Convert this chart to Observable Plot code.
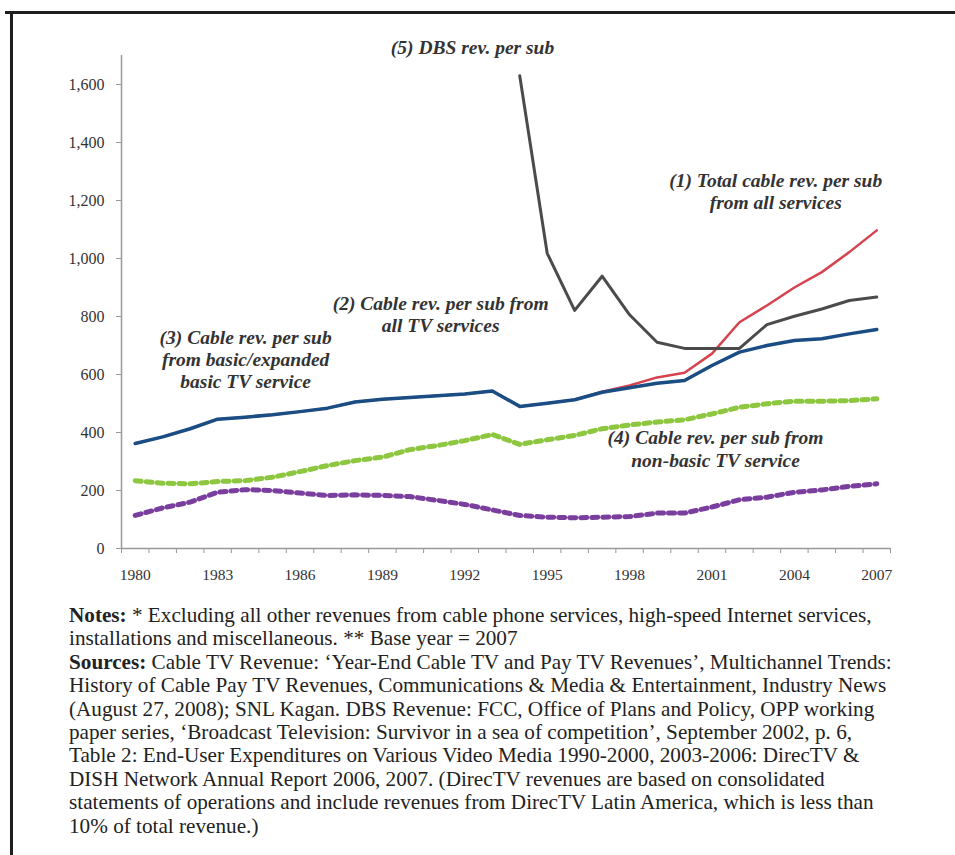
<!DOCTYPE html>
<html>
<head>
<meta charset="utf-8">
<script src="https://cdn.jsdelivr.net/npm/d3@7"></script>
<script src="https://cdn.jsdelivr.net/npm/@observablehq/plot@0.6"></script>
<style>
  html, body { margin: 0; padding: 0; background: #fff; }
  #page { position: relative; width: 955px; height: 855px; overflow: hidden; }
  #topBorder { position: absolute; left: 5px; top: 11px; width: 960px; height: 3px; background: #1e1e1e; }
  #leftBorder { position: absolute; left: 10px; top: 11px; width: 3px; height: 860px; background: #1e1e1e; }
  #chart { position: absolute; left: 0; top: 0; }
  #notes { position: absolute; left: 69px; top: 604px; font-family: "Liberation Serif", serif; font-size: 21.2px; line-height: 23.4px; color: #222; white-space: nowrap; }
  #notes b { font-weight: bold; }
</style>
</head>
<body>
<div id="page">
  <div id="topBorder"></div>
  <div id="leftBorder"></div>
  <div id="chart"></div>
  <div id="notes"></div>
</div>
<script>
const years = [1980,1981,1982,1983,1984,1985,1986,1987,1988,1989,1990,1991,1992,1993,1994,1995,1996,1997,1998,1999,2000,2001,2002,2003,2004,2005,2006,2007];
// (1) Total cable rev. per sub from all services
const totalAll = [362,385,413,446,453,461,472,484,505,515,521,527,533,543,490,501,513,541,562,590,606,672,780,838,900,953,1022,1097];
// (2) Cable rev. per sub from all TV services
const allTV = [362,385,413,446,453,461,472,484,505,515,521,527,533,543,490,501,513,539,554,570,579,631,677,700,717,723,740,755];
// (3) basic/expanded basic
const basicTV = [234,225,223,231,234,246,265,286,303,315,341,355,372,393,359,375,390,413,426,436,444,464,487,499,508,508,510,516];
// (4) non-basic
const nonBasicTV = [114,140,160,194,203,200,191,183,185,183,179,166,152,133,114,108,106,108,110,122,122,143,168,177,194,202,214,223];
// (5) DBS
const dbsYears = [1994,1995,1996,1997,1998,1999,2000,2001,2002,2003,2004,2005,2006,2007];
const dbs = [1630,1018,821,939,806,711,690,690,690,772,801,826,855,867];

const yTicks = [0,200,400,600,800,1000,1200,1400,1600];
const xLabelTicks = [1980,1983,1986,1989,1992,1995,1998,2001,2004,2007];

const labels = [
  {x: 1992.28, y: 1728, text: "(5) DBS rev. per sub"},
  {x: 2003.32, y: 1234, text: "(1) Total cable rev. per sub\nfrom all services"},
  {x: 1991.12, y: 808, text: "(2) Cable rev. per sub from\nall TV services"},
  {x: 1984.02, y: 655, text: "(3) Cable rev. per sub\nfrom basic/expanded\nbasic TV service"},
  {x: 2001.13, y: 345, text: "(4) Cable rev. per sub from\nnon-basic TV service"}
];

const toRows = (xs, ys) => xs.map((x, i) => ({year: x, value: ys[i]}));
const boundaries = d3.range(1979.5, 2008, 1);

const chart = Plot.plot({
  width: 955,
  height: 590,
  marginLeft: 121,
  marginRight: 65,
  marginTop: 55,
  marginBottom: 42,
  x: {domain: [1979.5, 2007.5]},
  y: {domain: [0, 1700]},
  style: {fontFamily: "Liberation Serif, serif", background: "transparent", color: "#333"},
  marks: [
    Plot.axisY({ticks: yTicks, tickSize: 5, tickPadding: 12, tickFormat: d3.format(","), fontSize: 16, label: null, stroke: "#999", fill: "#333"}),
    Plot.axisX({ticks: boundaries, tickSize: 5, tickFormat: () => "", label: null, stroke: "#999"}),
    Plot.axisX({ticks: xLabelTicks, tickSize: 0, tickPadding: 20, tickFormat: d => String(d), fontSize: 15.5, label: null, fill: "#333"}),
    Plot.ruleY([0], {stroke: "#999", strokeWidth: 1.5}),
    Plot.ruleX([1979.5], {stroke: "#999", strokeWidth: 1.5}),
    Plot.line(toRows(years, totalAll), {x: "year", y: "value", stroke: "#d6434f", strokeWidth: 2.5}),
    Plot.line(toRows(dbsYears, dbs), {x: "year", y: "value", stroke: "#4b4b4b", strokeWidth: 3}),
    Plot.line(toRows(years, allTV), {x: "year", y: "value", stroke: "#1b4d85", strokeWidth: 3.5}),
    Plot.line(toRows(years, basicTV), {x: "year", y: "value", stroke: "#8dc63f", strokeWidth: 5, strokeDasharray: "6,5"}),
    Plot.line(toRows(years, nonBasicTV), {x: "year", y: "value", stroke: "#7a3f9e", strokeWidth: 5, strokeDasharray: "6,5"}),
    Plot.text(labels, {x: "x", y: "y", text: "text", fontSize: 19.5, fontStyle: "italic", fontWeight: "bold", lineHeight: 1.13, fill: "#333"})
  ]
});
document.getElementById("chart").appendChild(chart);

document.getElementById("notes").innerHTML = [
  "<b>Notes:</b> * Excluding all other revenues from cable phone services, high-speed Internet services,",
  "installations and miscellaneous. ** Base year = 2007",
  "<b>Sources:</b> Cable TV Revenue: ‘Year-End Cable TV and Pay TV Revenues’, Multichannel Trends:",
  "History of Cable Pay TV Revenues, Communications &amp; Media &amp; Entertainment, Industry News",
  "(August 27, 2008); SNL Kagan. DBS Revenue: FCC, Office of Plans and Policy, OPP working",
  "paper series, ‘Broadcast Television: Survivor in a sea of competition’, September 2002, p. 6,",
  "Table 2: End-User Expenditures on Various Video Media 1990-2000, 2003-2006: DirecTV &amp;",
  "DISH Network Annual Report 2006, 2007. (DirecTV revenues are based on consolidated",
  "statements of operations and include revenues from DirecTV Latin America, which is less than",
  "10% of total revenue.)"
].join("<br>");
</script>
</body>
</html>
